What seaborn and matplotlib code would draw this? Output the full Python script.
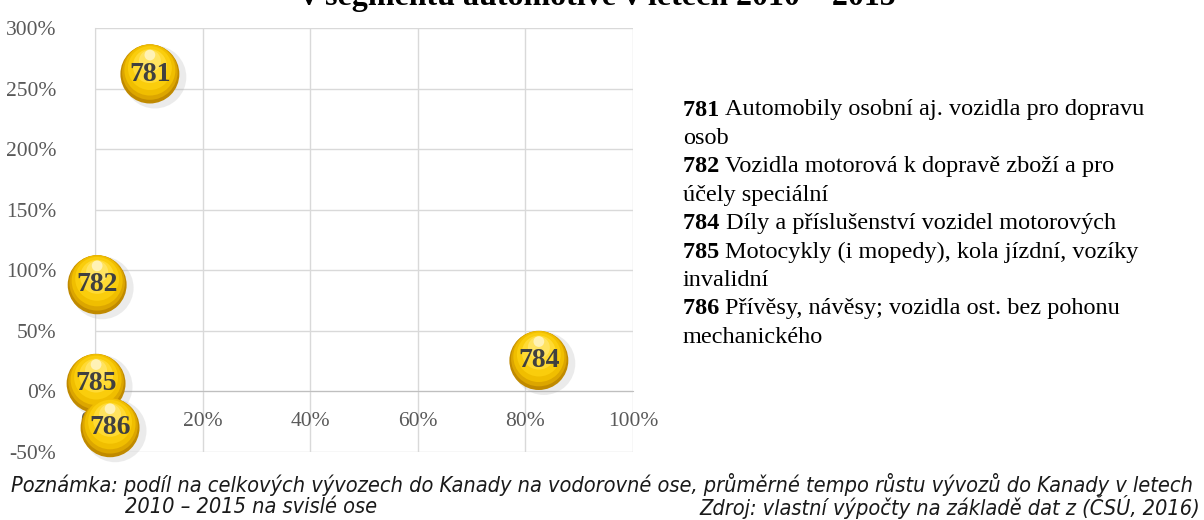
import matplotlib
matplotlib.use('Agg')
import matplotlib.pyplot as plt
import matplotlib.transforms as mtransforms
import seaborn as sns
import pandas as pd

# data
codes = ['781', '782', '784', '785', '786']
share = [10.2, 0.4, 82.5, 0.2, 2.8]        # % of exports to Canada
growth = [262, 88, 25.5, 6.5, -30]          # avg growth 2010-2015, %
legend_lines = [
    ('781', 'Automobily osobní aj. vozidla pro dopravu', 'osob'),
    ('782', 'Vozidla motorová k dopravě zboží a pro', 'účely speciální'),
    ('784', 'Díly a příslušenství vozidel motorových', None),
    ('785', 'Motocykly (i mopedy), kola jízdní, vozíky', 'invalidní'),
    ('786', 'Přívěsy, návěsy; vozidla ost. bez pohonu', 'mechanického'),
]
xticks = [0, 20, 40, 60, 80, 100]
yticks = [-50, 0, 50, 100, 150, 200, 250, 300]

df = pd.DataFrame({'code': codes, 'share': share, 'growth': growth})

sns.set_style('white')
plt.rcParams['font.family'] = ['Liberation Serif', 'DejaVu Serif']

fig = plt.figure(figsize=(12.04, 5.2), dpi=100)
ax = fig.add_axes([95/1204, 1-452/520, 538/1204, 424/520])

ax.set_xlim(0, 100)
ax.set_ylim(-50, 300)
ax.set_xticks(xticks)
ax.set_yticks(yticks)
ax.set_xticklabels([f'{t}%' for t in xticks])
ax.set_yticklabels([f'{t}%' for t in yticks])
ax.grid(True, color='#D9D9D9', lw=1)
ax.set_axisbelow(True)
for s in ['top', 'right']:
    ax.spines[s].set_visible(False)
ax.spines['bottom'].set_position(('data', 0))
ax.spines['bottom'].set_color('#BFBFBF')
ax.spines['left'].set_color('#D9D9D9')
ax.tick_params(axis='x', length=0, pad=15, labelsize=15.5, labelcolor='#595959')
ax.tick_params(axis='y', length=0, pad=28, labelsize=15.5, labelcolor='#595959')

# bubbles: layered discs to fake the gold 3D look
shadow = mtransforms.offset_copy(ax.transData, fig=fig, x=5, y=-3, units='dots')
layers = [
    ('#A8A8A8', 2050, 0, 0.22),
    ('#C08A00', 1800, 0, 1.0),
    ('#DCA600', 1600, 2, 1.0),
    ('#F0BE00', 1350, 4, 1.0),
    ('#FACD0C', 1000, 6, 1.0),
    ('#FFDA33', 600, 8, 1.0),
    ('#FFE566', 250, 13, 0.9),
    ('#FFF6CC', 60, 19, 0.8),
]
for i, (col, sz, dy, a) in enumerate(layers):
    if i == 0:
        tr = shadow
    else:
        tr = mtransforms.offset_copy(ax.transData, fig=fig, x=0, y=dy, units='dots')
    sns.scatterplot(data=df, x='share', y='growth', s=sz, color=col, alpha=a,
                    edgecolor='none', legend=False, ax=ax, transform=tr,
                    clip_on=False, zorder=5 + i)

for c, xv, yv in zip(codes, share, growth):
    ax.text(xv, yv, c, ha='center', va='center', fontsize=20, fontweight='bold',
            color='#404040', zorder=20, clip_on=False)
ax.set_xlabel('')
ax.set_ylabel('')

# title, cut off at the top as in the source
fig.text(0.497, 1 - 5/520, 'v segmentu automotive v letech 2010 – 2015', ha='center',
         va='baseline', fontsize=23, fontweight='bold', color='#000000')

# legend text on the right
renderer = fig.canvas.get_renderer()
x0 = 683
y0 = 110
step = 28.4
row = 0
for code, first, second in legend_lines:
    yy = 1 - (y0 + row * step) / 520
    t = fig.text(x0/1204, yy, code + ' ', ha='left', va='center', fontsize=17.5,
                 fontweight='bold', color='#000000')
    w = t.get_window_extent(renderer).width
    fig.text((x0 + w)/1204, yy, first, ha='left', va='center', fontsize=17.5,
             color='#000000')
    row += 1
    if second:
        yy = 1 - (y0 + row * step) / 520
        fig.text(x0/1204, yy, second, ha='left', va='center', fontsize=17.5,
                 color='#000000')
        row += 1

note_kw = dict(fontsize=15.6, style='italic', family='DejaVu Sans',
               stretch='condensed', color='#1A1A1A', va='center')
fig.text(0.5, 1 - 484/520, 'Poznámka: podíl na celkových vývozech do Kanady na vodorovné ose, '
         'průměrné tempo růstu vývozů do Kanady v letech', ha='center', **note_kw)
fig.text(125/1204, 1 - 507/520, '2010 – 2015 na svislé ose', ha='left', **note_kw)
fig.text(1200/1204, 1 - 507/520, 'Zdroj: vlastní výpočty na základě dat z (ČSÚ, 2016)',
         ha='right', **note_kw)

fig.savefig('out.png', dpi=100)
